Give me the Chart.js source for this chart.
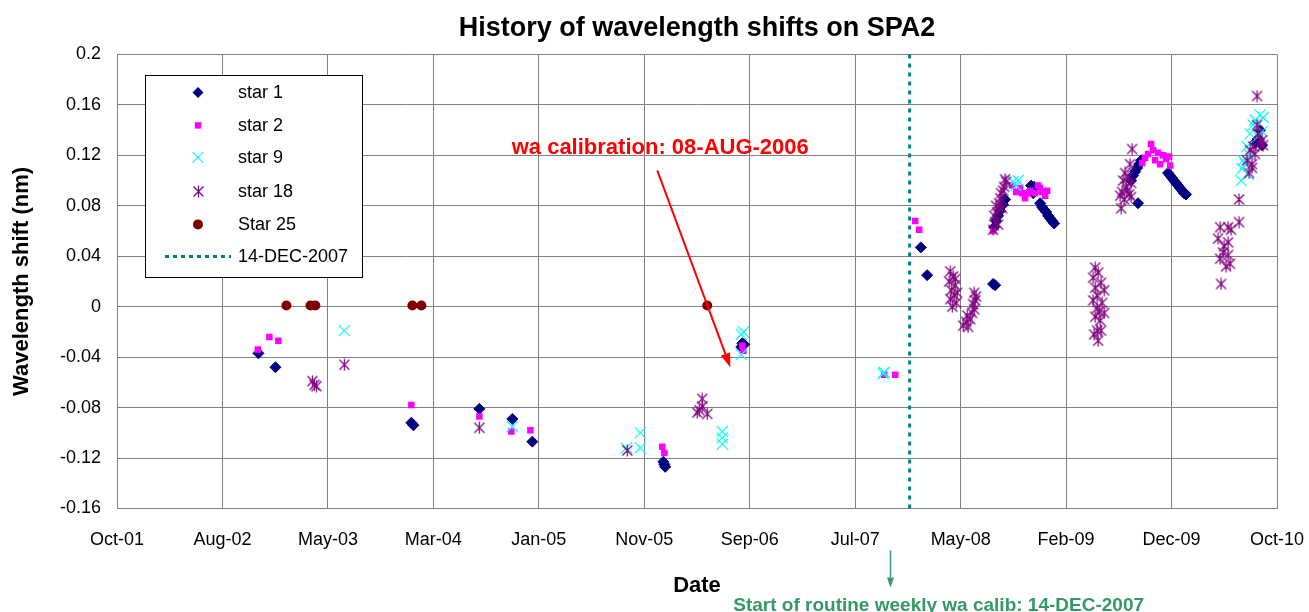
<!DOCTYPE html>
<html>
<head>
<meta charset="utf-8">
<script src="https://cdn.jsdelivr.net/npm/chart.js@4.4.1/dist/chart.umd.min.js"></script>
<style>
html,body{margin:0;padding:0;background:#fff;}
canvas{display:block;}
</style>
</head>
<body>
<canvas id="c" width="1309" height="612"></canvas>
<script>
// ---------------- DATA (x = decimal year, y = wavelength shift in nm) ----------------
const xTickLabels = ['Oct-01','Aug-02','May-03','Mar-04','Jan-05','Nov-05','Sep-06','Jul-07','May-08','Feb-09','Dec-09','Oct-10'];
const xAxisStart = 2001.80;          // first tick (decimal year)
const xAxisStep = 299 / 365.25;      // spacing between date ticks (years)
const yTickValues = [-0.16,-0.12,-0.08,-0.04,0,0.04,0.08,0.12,0.16,0.2];
const yTickLabels = ['-0.16','-0.12','-0.08','-0.04','0','0.04','0.08','0.12','0.16','0.2'];
const seriesNames = ['star 1','star 2','star 9','star 18','Star 25','14-DEC-2007'];

const star1Points = [
  [2002.898,-0.037],[2003.030,-0.048],[2004.085,-0.092],[2004.101,-0.094],[2004.613,-0.081],
  [2004.869,-0.089],[2005.024,-0.107],[2006.041,-0.123],[2006.056,-0.127],[2006.049,-0.125],
  [2006.654,-0.029],[2006.646,-0.032],[2006.669,-0.030],
  [2008.040,0.047],[2008.089,0.025],[2008.617,0.017],[2008.601,0.018],
  [2008.609,0.063],[2008.624,0.068],[2008.640,0.072],[2008.656,0.076],[2008.679,0.081],[2008.694,0.085],
  [2008.896,0.096],[2008.904,0.093],[2008.912,0.090],[2008.920,0.095],
  [2008.966,0.082],[2008.981,0.079],[2008.997,0.077],[2009.013,0.075],[2009.028,0.072],
  [2009.044,0.070],[2009.059,0.068],[2009.075,0.066],
  [2009.726,0.082],[2009.672,0.100],[2009.688,0.104],[2009.703,0.107],[2009.719,0.110],
  [2009.734,0.113],[2009.750,0.116],
  [2009.959,0.106],[2009.975,0.104],[2009.990,0.102],[2010.006,0.100],[2010.021,0.098],
  [2010.037,0.096],[2010.052,0.094],[2010.068,0.092],[2010.083,0.090],[2010.099,0.089],
  [2010.634,0.130],[2010.658,0.133],[2010.689,0.128],[2010.673,0.140]
];
const star2Points = [
  [2002.893,-0.034],[2002.983,-0.024],[2003.053,-0.027],[2004.085,-0.078],[2004.613,-0.087],
  [2004.861,-0.099],[2005.009,-0.098],[2006.033,-0.111],[2006.049,-0.116],
  [2006.654,-0.031],[2006.662,-0.035],[2007.756,-0.054],[2007.841,-0.054],
  [2007.996,0.068],[2008.027,0.061],[2008.601,0.060],
  [2008.749,0.096],[2008.780,0.091],[2008.811,0.094],[2008.826,0.090],[2008.849,0.086],
  [2008.873,0.090],[2008.888,0.092],[2008.927,0.090],[2008.950,0.096],[2008.966,0.094],
  [2008.981,0.091],[2009.005,0.088],[2009.020,0.092],
  [2009.758,0.114],[2009.781,0.118],[2009.804,0.121],[2009.827,0.129],[2009.843,0.124],
  [2009.858,0.116],[2009.882,0.122],[2009.897,0.113],[2009.920,0.120],[2009.944,0.117],
  [2009.967,0.119],[2009.975,0.112]
];
const star9Points = [
  [2003.565,-0.019],[2004.869,-0.095],[2005.754,-0.112],[2005.862,-0.100],[2005.862,-0.112],
  [2006.499,-0.099],[2006.499,-0.104],[2006.499,-0.109],
  [2006.662,-0.020],[2006.646,-0.022],[2006.646,-0.038],
  [2007.756,-0.052],[2007.748,-0.053],
  [2008.756,0.099],[2008.780,0.096],[2008.795,0.100],
  [2010.526,0.100],[2010.534,0.1095],[2010.541,0.116],[2010.557,0.113],[2010.572,0.127],
  [2010.596,0.137],[2010.619,0.144],[2010.634,0.148],[2010.658,0.135],[2010.673,0.152],
  [2010.689,0.139],[2010.697,0.150],[2010.580,0.105],[2010.596,0.120]
];
const star18Points = [
  [2003.317,-0.059],[2003.333,-0.062],[2003.348,-0.063],[2003.565,-0.046],[2004.613,-0.096],
  [2005.761,-0.114],[2006.304,-0.084],[2006.320,-0.082],[2006.343,-0.073],[2006.343,-0.079],[2006.382,-0.085],
  [2008.268,0.028],[2008.291,0.024],[2008.260,0.020],[2008.307,0.017],[2008.276,0.013],
  [2008.299,0.009],[2008.268,0.006],[2008.314,0.003],[2008.284,0.000],[2008.307,0.022],[2008.322,0.011],
  [2008.369,-0.015],[2008.392,-0.012],[2008.407,-0.016],[2008.423,-0.010],[2008.400,-0.007],
  [2008.438,-0.005],[2008.454,-0.002],[2008.446,0.002],[2008.462,0.005],[2008.469,0.008],[2008.454,0.011],
  [2008.601,0.061],[2008.617,0.067],[2008.609,0.072],[2008.632,0.075],[2008.624,0.080],
  [2008.648,0.082],[2008.656,0.086],[2008.663,0.090],[2008.679,0.092],[2008.687,0.095],
  [2008.702,0.099],[2008.694,0.101],[2008.671,0.078],[2008.640,0.065],
  [2009.393,0.031],[2009.416,0.027],[2009.377,0.023],[2009.439,0.019],[2009.393,0.015],
  [2009.463,0.013],[2009.408,0.009],[2009.377,0.005],[2009.447,0.003],[2009.408,-0.001],
  [2009.424,-0.004],[2009.463,-0.005],[2009.393,-0.008],[2009.432,-0.011],[2009.408,-0.019],
  [2009.439,-0.019],[2009.385,-0.022],[2009.416,-0.027],
  [2009.680,0.125],[2009.664,0.113],[2009.625,0.106],[2009.649,0.103],[2009.610,0.100],
  [2009.672,0.098],[2009.633,0.095],[2009.602,0.091],[2009.657,0.089],[2009.618,0.085],
  [2009.672,0.087],[2009.587,0.088],[2009.595,0.078],[2009.641,0.092],
  [2010.371,0.018],[2010.363,0.063],[2010.425,0.063],[2010.448,0.061],[2010.347,0.054],
  [2010.425,0.051],[2010.386,0.043],[2010.425,0.041],[2010.363,0.038],[2010.440,0.034],
  [2010.409,0.032],[2010.394,0.048],[2010.510,0.085],[2010.510,0.067],
  [2010.650,0.167],[2010.611,0.113],[2010.596,0.124],[2010.650,0.144],[2010.673,0.129],
  [2010.619,0.127],[2010.689,0.132],[2010.611,0.110],[2010.697,0.128],[2010.572,0.116],
  [2010.658,0.137],[2010.634,0.121],[2010.588,0.106]
];
const star25Points = [
  [2003.115,0.001],[2003.302,0.001],[2003.340,0.001],[2004.093,0.001],[2004.163,0.001],[2006.382,0.001]
];
const routineStartYear = 2007.953;   // 14-DEC-2007
const calibArrowFrom = [2005.994, 0.108];
const calibArrowTo = [2006.561, -0.048];
const calibTextAt = [2006.017, 0.1255];
const calibText = 'wa calibration: 08-AUG-2006';
const routineArrowYear = 2007.80;
const routineTextYear = 2006.584;
const routineText = 'Start of routine weekly wa calib: 14-DEC-2007';
const chartTitle = 'History of wavelength shifts on SPA2';

// ---------------- STYLE ----------------
const FONT = '"Liberation Sans", Arial, Helvetica, sans-serif';
const C_NAVY = '#000080', C_MAG = '#FF00FF', C_CYAN = '#00FFFF', C_PURP = '#800080', C_DRED = '#800000', C_TEAL = '#008080';
const GRID = '#808080';

function makeAsterisk(color) {
  const cv = document.createElement('canvas');
  cv.width = 13; cv.height = 13;
  const g = cv.getContext('2d');
  g.strokeStyle = color; g.lineWidth = 1.2;
  g.beginPath();
  g.moveTo(6.5, 0.5); g.lineTo(6.5, 12.5);
  g.moveTo(1.5, 1.5); g.lineTo(11.5, 11.5);
  g.moveTo(11.5, 1.5); g.lineTo(1.5, 11.5);
  g.stroke();
  return cv;
}
const asteriskImg = makeAsterisk(C_PURP);

const toXY = arr => arr.map(p => ({x: p[0], y: p[1]}));

function drawLegendMarker(ctx, kind, x, y) {
  ctx.save();
  if (kind === 0) {
    ctx.fillStyle = C_NAVY; ctx.beginPath();
    ctx.moveTo(x, y - 5.5); ctx.lineTo(x + 5.5, y); ctx.lineTo(x, y + 5.5); ctx.lineTo(x - 5.5, y); ctx.closePath(); ctx.fill();
  } else if (kind === 1) {
    ctx.fillStyle = C_MAG; ctx.fillRect(x - 3.2, y - 3.2, 6.4, 6.4);
  } else if (kind === 2) {
    ctx.strokeStyle = C_CYAN; ctx.lineWidth = 1.2; ctx.beginPath();
    ctx.moveTo(x - 5.5, y - 5.5); ctx.lineTo(x + 5.5, y + 5.5);
    ctx.moveTo(x + 5.5, y - 5.5); ctx.lineTo(x - 5.5, y + 5.5); ctx.stroke();
  } else if (kind === 3) {
    ctx.drawImage(asteriskImg, Math.round(x - 6.5), Math.round(y - 6.5));
  } else if (kind === 4) {
    ctx.fillStyle = C_DRED; ctx.beginPath(); ctx.arc(x, y, 5, 0, Math.PI * 2); ctx.fill();
  }
  ctx.restore();
}

function arrow(ctx, x1, y1, x2, y2, color, width, headLen, headHalf) {
  const ang = Math.atan2(y2 - y1, x2 - x1);
  const bx = x2 - headLen * Math.cos(ang), by = y2 - headLen * Math.sin(ang);
  ctx.save();
  ctx.strokeStyle = color; ctx.fillStyle = color; ctx.lineWidth = width;
  ctx.beginPath(); ctx.moveTo(x1, y1); ctx.lineTo(bx, by); ctx.stroke();
  ctx.beginPath();
  ctx.moveTo(x2, y2);
  ctx.lineTo(bx + headHalf * Math.sin(ang), by - headHalf * Math.cos(ang));
  ctx.lineTo(bx - headHalf * Math.sin(ang), by + headHalf * Math.cos(ang));
  ctx.closePath(); ctx.fill();
  ctx.restore();
}

const overlayPlugin = {
  id: 'overlay',
  afterDraw(chart) {
    const ctx = chart.ctx, a = chart.chartArea, xs = chart.scales.x, ys = chart.scales.y;
    // legend box
    const lx = a.left + 28, ly = a.top + 21, lw = 217, lh = 202;
    ctx.save();
    ctx.fillStyle = '#fff'; ctx.fillRect(lx, ly, lw, lh);
    ctx.strokeStyle = '#000'; ctx.lineWidth = 1; ctx.strokeRect(Math.round(lx) + 0.5, Math.round(ly) + 0.5, lw, lh);
    const rows = [17, 50, 82, 116, 149, 181];
    ctx.font = '18px ' + FONT; ctx.fillStyle = '#000'; ctx.textBaseline = 'middle'; ctx.textAlign = 'left';
    for (let i = 0; i < seriesNames.length; i++) {
      const yy = ly + rows[i];
      if (i < 5) drawLegendMarker(ctx, i, lx + 53, yy);
      else {
        ctx.save(); ctx.strokeStyle = C_TEAL; ctx.lineWidth = 3; ctx.setLineDash([4, 4]);
        ctx.beginPath(); ctx.moveTo(lx + 20, yy); ctx.lineTo(lx + 86, yy); ctx.stroke(); ctx.restore();
      }
      ctx.fillText(seriesNames[i], lx + 93, yy + 1);
    }
    // red calibration annotation
    arrow(ctx, xs.getPixelForValue(calibArrowFrom[0]), ys.getPixelForValue(calibArrowFrom[1]),
          xs.getPixelForValue(calibArrowTo[0]), ys.getPixelForValue(calibArrowTo[1]), '#FF0000', 2, 14, 5);
    ctx.font = 'bold 22px ' + FONT; ctx.fillStyle = '#FF0000'; ctx.textAlign = 'center'; ctx.textBaseline = 'middle';
    ctx.fillText(calibText, xs.getPixelForValue(calibTextAt[0]), ys.getPixelForValue(calibTextAt[1]));
    // green routine annotation
    const gx = Math.round(xs.getPixelForValue(routineArrowYear)) + 0.5;
    arrow(ctx, gx, a.bottom + 42, gx, a.bottom + 79, '#339966', 1.5, 10, 3.5);
    ctx.font = 'bold 19px ' + FONT; ctx.fillStyle = '#339966'; ctx.textAlign = 'left'; ctx.textBaseline = 'alphabetic';
    ctx.fillText(routineText, xs.getPixelForValue(routineTextYear), chart.height - 1);
    ctx.restore();
  }
};

const ctx = document.getElementById('c').getContext('2d');
new Chart(ctx, {
  type: 'scatter',
  data: {
    datasets: [
      { label: seriesNames[0], data: toXY(star1Points), pointStyle: 'rectRot', pointRadius: 5.5, backgroundColor: C_NAVY, borderColor: C_NAVY, borderWidth: 1, order: 6 },
      { label: seriesNames[1], data: toXY(star2Points), pointStyle: 'rect', pointRadius: 4.6, backgroundColor: C_MAG, borderColor: C_MAG, borderWidth: 0, order: 5 },
      { label: seriesNames[2], data: toXY(star9Points), pointStyle: 'crossRot', pointRadius: 7.8, backgroundColor: C_CYAN, borderColor: C_CYAN, borderWidth: 1.2, order: 4 },
      { label: seriesNames[3], data: toXY(star18Points), pointStyle: asteriskImg, pointRadius: 6, backgroundColor: C_PURP, borderColor: C_PURP, order: 3 },
      { label: seriesNames[4], data: toXY(star25Points), pointStyle: 'circle', pointRadius: 5, backgroundColor: C_DRED, borderColor: C_DRED, borderWidth: 0, order: 2 },
      { label: seriesNames[5], type: 'line', data: [{x: routineStartYear, y: yTickValues[0]}, {x: routineStartYear, y: yTickValues[yTickValues.length - 1]}],
        showLine: true, borderColor: C_TEAL, borderWidth: 3, borderDash: [4, 5], pointRadius: 0, fill: false, order: 1 }
    ]
  },
  options: {
    responsive: false,
    animation: false,
    devicePixelRatio: 1,
    events: [],
    layout: { padding: { left: 0, right: 32, top: 0, bottom: 0 } },
    plugins: {
      legend: { display: false },
      tooltip: { enabled: false },
      title: {
        display: true, text: chartTitle, fullSize: false, color: '#000',
        font: { family: FONT, size: 27, weight: 'bold' }, padding: { top: 12, bottom: 10 }
      }
    },
    scales: {
      x: {
        type: 'linear',
        min: xAxisStart,
        max: xAxisStart + (xTickLabels.length - 1) * xAxisStep,
        afterBuildTicks: s => { s.ticks = xTickLabels.map((l, i) => ({ value: xAxisStart + i * xAxisStep })); },
        afterFit: s => { s.height = 103.5; s.paddingRight = 0; s.paddingLeft = 0; },
        grid: { color: GRID, drawTicks: false, tickLength: 0 },
        border: { color: GRID },
        ticks: { autoSkip: false, maxRotation: 0, minRotation: 0, padding: 21, color: '#000',
                 font: { family: FONT, size: 18 }, callback: (v, i) => xTickLabels[i] },
        title: { display: true, text: 'Date', color: '#000', font: { family: FONT, size: 22, weight: 'bold' }, padding: { top: 0, bottom: 13 } }
      },
      y: {
        min: yTickValues[0],
        max: yTickValues[yTickValues.length - 1],
        afterBuildTicks: s => { s.ticks = yTickValues.map(v => ({ value: v })); },
        afterFit: s => { s.width = 117; s.paddingTop = 0; s.paddingBottom = 0; },
        grid: { color: GRID, drawTicks: false, tickLength: 0 },
        border: { color: GRID },
        ticks: { padding: 16, color: '#000', font: { family: FONT, size: 18 },
                 callback: (v) => { const i = yTickValues.findIndex(t => Math.abs(t - v) < 1e-9); return i >= 0 ? yTickLabels[i] : ''; } },
        title: { display: true, text: 'Wavelength shift (nm)', color: '#000', font: { family: FONT, size: 22, weight: 'bold' }, padding: { top: 9, bottom: 0 } }
      }
    }
  },
  plugins: [overlayPlugin]
});
</script>
</body>
</html>
